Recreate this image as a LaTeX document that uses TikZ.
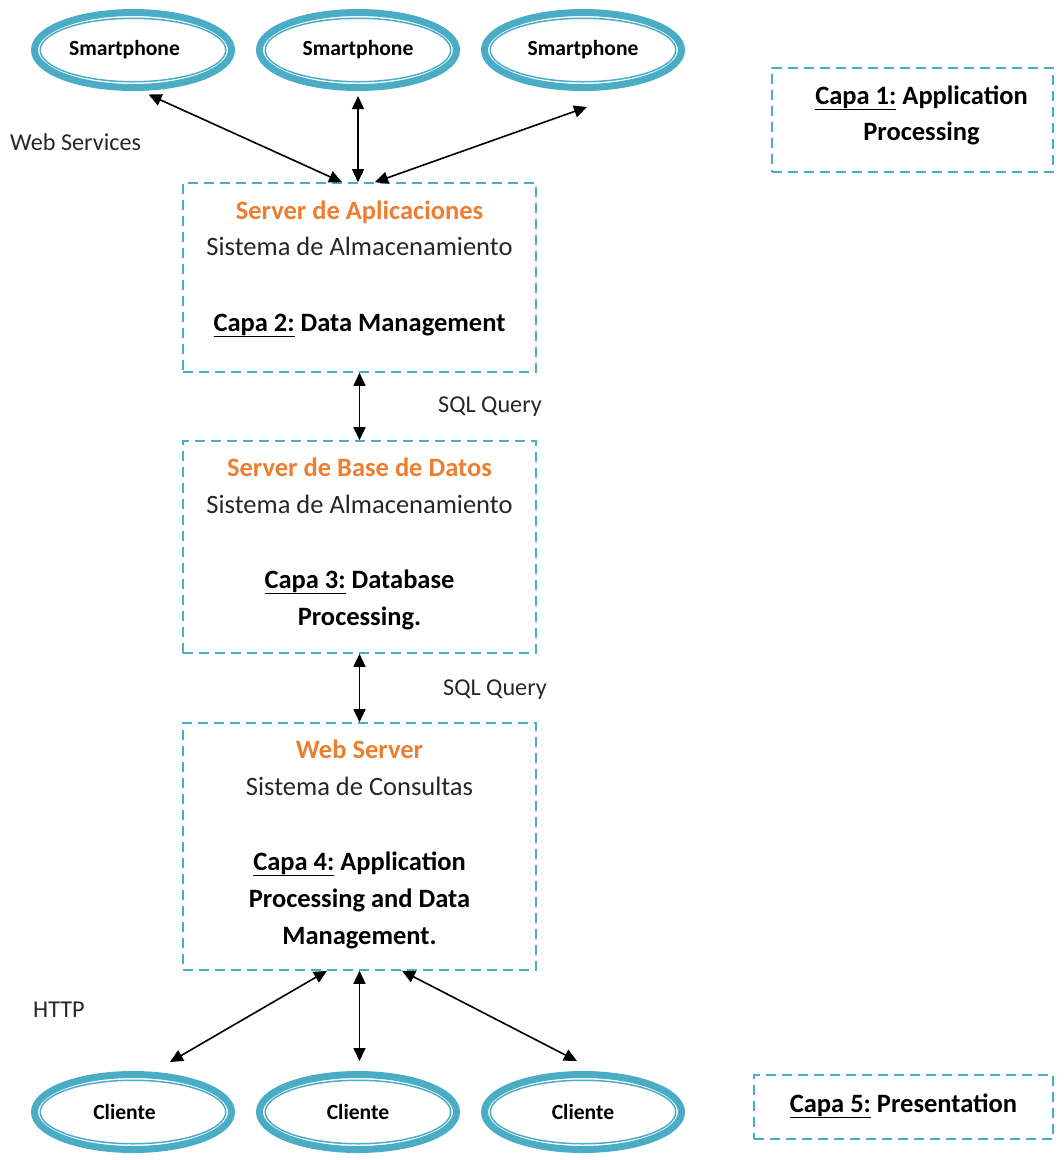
\documentclass[tikz,border=0pt]{standalone}
\usepackage{fontspec}
\setmainfont{Carlito}
\usetikzlibrary{shapes.geometric,arrows.meta}

\definecolor{layerteal}{RGB}{75,172,198}
\definecolor{headorange}{RGB}{237,125,49}
\definecolor{inktext}{RGB}{38,38,38}

\begin{document}
\begin{tikzpicture}[x=1pt,y=-1pt,
  device/.style={ellipse, draw=layerteal, line width=7pt,
    minimum width=197pt, minimum height=75pt, inner sep=0pt,
    text=black, font=\fontsize{21.6}{26}\selectfont\bfseries},
  layerbox/.style={draw=layerteal, dash pattern=on 10pt off 6pt,
    line width=1.6pt, inner sep=0pt},
  body/.style={anchor=base, text=inktext, inner sep=0pt,
    font=\fontsize{26.5}{32}\selectfont},
  head/.style={body, text=headorange,
    font=\fontsize{26.5}{32}\selectfont\bfseries},
  layer/.style={body, text=black,
    font=\fontsize{26.5}{32}\selectfont\bfseries},
  note/.style={anchor=base west, text=inktext, inner sep=0pt,
    font=\fontsize{24.2}{29}\selectfont},
  link/.style={{Triangle[length=13pt,width=12pt]}-{Triangle[length=13pt,width=12pt]},
    line width=1.6pt, black}]

\useasboundingbox (0,0) rectangle (1064,1160);

% client devices
\node[device] (s1) at (133,50) {Smartphone\kern17pt\relax};
\node[device] (s2) at (358,50) {Smartphone};
\node[device] (s3) at (583,50) {Smartphone};
\node[device] (c1) at (133,1112) {Cliente\kern17pt\relax};
\node[device] (c2) at (358,1112) {Cliente};
\node[device] (c3) at (583,1112) {Cliente};
\foreach \n in {s1,s2,s3,c1,c2,c3}
  \draw[layerteal, line width=1.5pt] (\n.center) ellipse [x radius=92.75, y radius=31.75];

% server tiers
\node[layerbox, minimum width=353pt, minimum height=189pt] (b1) at (359.5,277.5) {};
\node[layerbox, minimum width=353pt, minimum height=212pt] (b2) at (359.5,547) {};
\node[layerbox, minimum width=353pt, minimum height=247pt] (b3) at (359.5,846.5) {};

% side layer labels
\node[layerbox, minimum width=281pt, minimum height=104pt] (k1) at (912.5,120) {};
\node[layerbox, minimum width=299pt, minimum height=64pt] (k5) at (903.5,1107) {};

\node[layer] (k1a) at (921.5,104) {\underline{Capa 1:} Application};
\node[layer] (k1b) at (921.5,140) {Processing};
\node[layer] (k5a) at (903.5,1112) {\underline{Capa 5:} Presentation};

% texts of the application server
\node[head]  (t11) at (359.5,219) {Server de Aplicaciones};
\node[body]  (t12) at (359.5,255) {Sistema de Almacenamiento};
\node[layer] (t13) at (359.5,331) {\underline{Capa 2:} Data Management};

% texts of the database server
\node[head]  (t21) at (359.5,476) {Server de Base de Datos};
\node[body]  (t22) at (359.5,513) {Sistema de Almacenamiento};
\node[layer] (t23) at (359.5,588) {\underline{Capa 3:} Database};
\node[layer] (t24) at (359.5,625) {Processing.};

% texts of the web server
\node[head]  (t31) at (359.5,758) {Web Server};
\node[body]  (t32) at (359.5,795) {Sistema de Consultas};
\node[layer] (t33) at (359.5,870) {\underline{Capa 4:} Application};
\node[layer] (t34) at (359.5,907) {Processing and Data};
\node[layer] (t35) at (359.5,944) {Management.};

% connector labels
\node[note] (lws)  at (10,150)   {Web Services};
\node[note] (lsq1) at (438,412)  {SQL Query};
\node[note] (lsq2) at (443,695)  {SQL Query};
\node[note] (lhttp) at (33,1017) {HTTP};

% connectors
\coordinate (s1end) at ([yshift=-4pt]s1.291);
\coordinate (s2end) at ([yshift=-5pt]s2.south);
\coordinate (s3end) at ([shift={(4pt,-16pt)}]s3.south);
\coordinate (c1end) at ([shift={(37pt,9pt)}]c1.north);
\coordinate (c2end) at ([yshift=10pt]c2.north);
\coordinate (c3end) at ([shift={(-6pt,10pt)}]c3.north);

\draw[link] (s1end) -- ([xshift=-17.5pt]b1.north);
\draw[link] (s2end) -- (s2end |- b1.north);
\draw[link] (s3end) -- ([xshift=15.5pt]b1.north);
\draw[link] (b1.south) -- (b2.north);
\draw[link] (b2.south) -- (b3.north);
\draw[link] ([xshift=-32.5pt]b3.south) -- (c1end);
\draw[link] (b3.south) -- (b3.south |- c2end);
\draw[link] ([xshift=42.5pt]b3.south) -- (c3end);
\end{tikzpicture}
\end{document}
